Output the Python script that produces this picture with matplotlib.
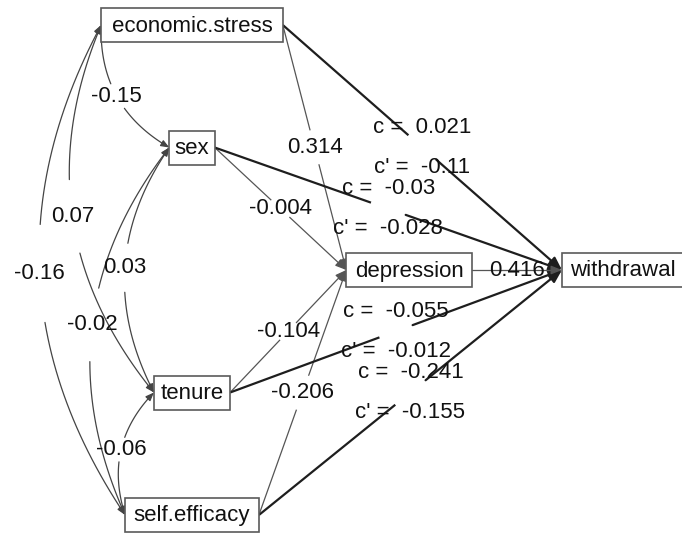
import numpy as np
import matplotlib.pyplot as plt
from matplotlib.patches import Rectangle, FancyArrowPatch
from matplotlib.path import Path

plt.rcParams['font.family'] = ['Liberation Sans', 'DejaVu Sans']

# variables of the mediation model
nodes = ["economic.stress", "sex", "tenure", "self.efficacy", "depression", "withdrawal"]
predictors = ["economic.stress", "sex", "tenure", "self.efficacy"]
mediator = "depression"
outcome = "withdrawal"

# a paths: predictor -> depression
a_coef = [0.314, -0.004, -0.104, -0.206]
# b path: depression -> withdrawal
b_coef = 0.416
# total (c) and direct (c') effects of each predictor on withdrawal
c_total = [0.021, -0.03, -0.055, -0.241]
c_direct = [-0.11, -0.028, -0.012, -0.155]

# covariances between predictors
cov_from = ["economic.stress", "economic.stress", "economic.stress", "sex", "sex", "tenure"]
cov_to = ["sex", "tenure", "self.efficacy", "tenure", "self.efficacy", "self.efficacy"]
cov_vals = [-0.15, 0.07, -0.16, 0.03, -0.02, -0.06]

# layout (column, row) on a grid
grid = {"economic.stress": (0, 0), "sex": (0, 1), "depression": (1, 2),
        "withdrawal": (2, 2), "tenure": (0, 3), "self.efficacy": (0, 4)}
col_x = [192, 409, 623]
row_y0, row_dy = 25, 122.5
box_h = 34
fs = 16
bend = 0.15

thin_col = "#555555"
thick_col = "#1e1e1e"
cov_col = "#444444"


def fmt(v):
    return f"{v:g}"


fig = plt.figure(figsize=(6.82, 5.35), dpi=100)
ax = fig.add_axes([0, 0, 1, 1])
ax.set_xlim(0, 682)
ax.set_ylim(535, 0)
ax.axis("off")
renderer = fig.canvas.get_renderer()

# boxes
boxes = {}
for name in nodes:
    c, r = grid[name]
    x, y = col_x[c], row_y0 + r * row_dy
    t = ax.text(x, y + 1, name, ha="center", va="center", fontsize=fs, color="#111111", zorder=4)
    w = t.get_window_extent(renderer).width * 1.08 + 8
    ax.add_patch(Rectangle((x - w / 2, y - box_h / 2), w, box_h, fc="white",
                           ec="#5a5a5a", lw=1.2, zorder=3))
    boxes[name] = (x, y, w)


def left(name):
    x, y, w = boxes[name]
    return np.array([x - w / 2, y])


def right(name):
    x, y, w = boxes[name]
    return np.array([x + w / 2, y])


def arrow_path(pts, color, lw, head):
    codes = [Path.MOVETO] + [Path.LINETO] * (len(pts) - 1)
    ap = FancyArrowPatch(path=Path(pts, codes),
                         arrowstyle="-|>,head_length=0.55,head_width=0.22",
                         mutation_scale=head, color=color, lw=lw, zorder=2)
    ax.add_patch(ap)


def straight(p0, p1, color, lw, head, gap):
    if gap > 0:
        q = p0 + (0.5 - gap / 2) * (p1 - p0)
        ax.plot([p0[0], q[0]], [p0[1], q[1]], color=color, lw=lw,
                solid_capstyle="butt", zorder=2)
        p0 = p0 + (0.5 + gap / 2) * (p1 - p0)
    arrow_path(np.array([p0, p1]), color, lw, head)
    return None


def curve(p0, p1, gap):
    d = p1 - p0
    L = np.hypot(d[0], d[1])
    n = np.array([-d[1], d[0]]) / L
    ctrl = (p0 + p1) / 2 + n * 2 * bend * L
    t = np.linspace(0, 1, 61)[:, None]
    pts = (1 - t) ** 2 * p0 + 2 * t * (1 - t) * ctrl + t ** 2 * p1
    tt = t[:, 0]
    first = pts[tt <= 0.5 - gap / 2]
    second = pts[tt >= 0.5 + gap / 2]
    arrow_path(first[::-1], cov_col, 0.9, 9)
    arrow_path(second, cov_col, 0.9, 9)
    return 0.25 * p0 + 0.5 * ctrl + 0.25 * p1


# a paths
for name, a in zip(predictors, a_coef):
    p0, p1 = right(name), left(mediator)
    straight(p0, p1, thin_col, 0.9, 12, 0.14)
    m = (p0 + p1) / 2
    ax.text(m[0], m[1], fmt(a), ha="center", va="center", fontsize=fs, color="#111111", zorder=5)

# c / c' paths
for name, c, cp in zip(predictors, c_total, c_direct):
    p0, p1 = right(name), left(outcome)
    straight(p0, p1, thick_col, 1.6, 14, 0.1)
    m = (p0 + p1) / 2
    ax.text(m[0], m[1] - 20, f"c =  {fmt(c)}", ha="center", va="center",
            fontsize=fs, color="#111111", zorder=5)
    ax.text(m[0], m[1] + 20, f"c' =  {fmt(cp)}", ha="center", va="center",
            fontsize=fs, color="#111111", zorder=5)

# b path
p0, p1 = right(mediator), left(outcome)
straight(p0, p1, thin_col, 0.9, 12, 0)
m = (p0 + p1) / 2
ax.text(m[0], m[1], fmt(b_coef), ha="center", va="center", fontsize=fs, color="#111111", zorder=5)

# covariances
for a_name, b_name, v in zip(cov_from, cov_to, cov_vals):
    m = curve(left(a_name), left(b_name), 0.2)
    ax.text(m[0], m[1], fmt(v), ha="center", va="center", fontsize=fs, color="#111111", zorder=5)

fig.savefig("out.png", dpi=100)
